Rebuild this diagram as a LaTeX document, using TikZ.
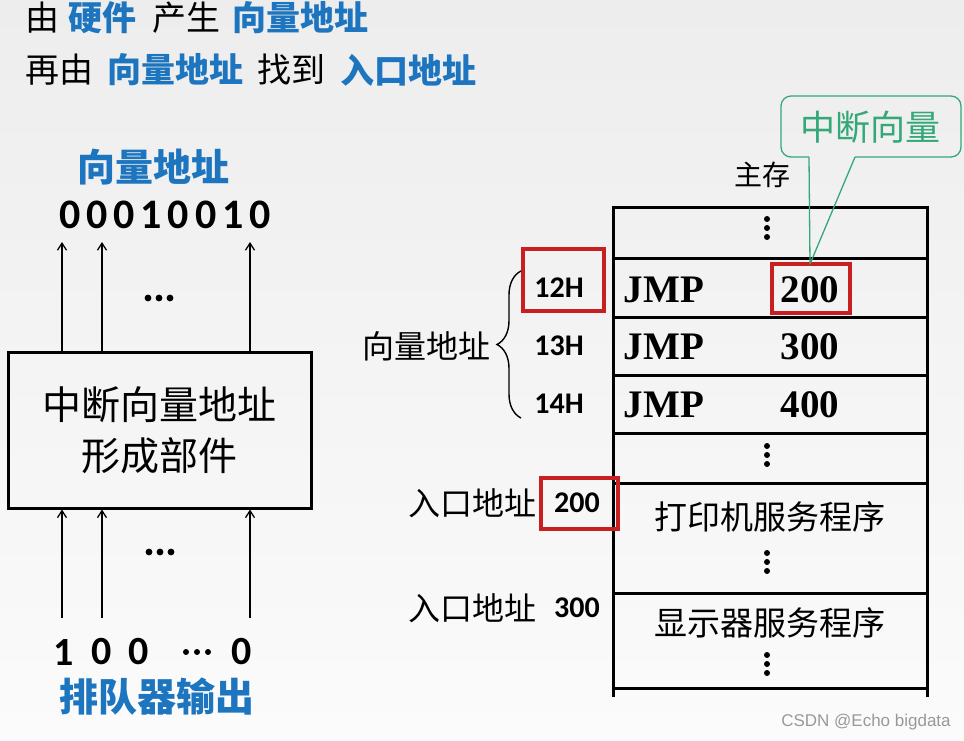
\documentclass[tikz,border=0pt]{standalone}
\usepackage{fontspec}
\newfontfamily\cjk{Noto Sans CJK SC}
\newfontfamily\carl{Carlito}
\newfontfamily\tnr{Liberation Serif}
\newfontfamily\wmfont{Liberation Sans}
\usetikzlibrary{arrows.meta,decorations.pathreplacing}
\definecolor{tblue}{RGB}{28,117,190}
\definecolor{tgreen}{RGB}{52,168,120}
\definecolor{tred}{RGB}{200,32,32}
\definecolor{bgtop}{RGB}{237,237,237}
\definecolor{bgbot}{RGB}{251,251,251}
\begin{document}
\begin{tikzpicture}[x=1pt,y=-1pt,
  txt/.style={inner sep=0pt,outer sep=0pt},
  cjkn/.style={txt,font={\cjk\fontsize{#1}{#1}\selectfont}},
  bl/.style={txt,text=tblue,font={\cjk\bfseries\fontsize{#1}{#1}\selectfont}},
  num/.style={txt,font={\carl\bfseries\fontsize{#1}{#1}\selectfont}},
  serifnum/.style={txt,font={\tnr\bfseries\fontsize{#1}{#1}\selectfont}},
  arr/.style={line width=1.3pt,-{Straight Barb[length=7pt,width=9pt,line width=1.3pt]}},
  tbl/.style={line width=3pt},
  redbox/.style={draw=tred,line width=4.5pt},
  dot/.style={fill=black}
]
\useasboundingbox (0,0) rectangle (964,740);
\shade[top color=bgtop,bottom color=bgbot] (0,0) rectangle (964,740);

% ---------- title ----------
\node[cjkn=34,anchor=west] (t1a) at (25,18) {由};
\node[bl=34,anchor=west] (t1b) at (68,18) {硬件};
\node[cjkn=34,anchor=west] (t1c) at (152,18) {产生};
\node[bl=34,anchor=west] (t1d) at (232,18) {向量地址};
\node[cjkn=34,anchor=west] (t2a) at (25,70) {再由};
\node[bl=34,anchor=west] (t2b) at (107,70) {向量地址};
\node[cjkn=34,anchor=west] (t2c) at (257,70) {找到};
\node[bl=34,anchor=west] (t2d) at (340,70) {入口地址};

% ---------- left block ----------
\node[bl=38] (vaddr) at (153,167) {向量地址};
\node[num=42,font={\carl\bfseries\fontsize{42}{42}\selectfont\addfontfeature{LetterSpace=14}}] (bits) at (165,215) {00010010};

\node[draw,line width=3pt,inner sep=0pt,outer sep=0pt,minimum width=303pt,minimum height=156pt,
      align=center,font={\cjk\fontsize{39}{51}\selectfont}] (unit) at (159.5,430) {中断向量地址\\形成部件};

\coordinate (o1) at (62,242);
\coordinate (o2) at (102,242);
\coordinate (o3) at (250,242);
\foreach \o in {o1,o2,o3} \draw[arr] (unit.north -| \o) -- (\o);
\foreach \dx in {-11,0,11} \fill[dot] (159+\dx,298) circle (3.4);

\coordinate (i1) at (62,618);
\coordinate (i2) at (102,618);
\coordinate (i3) at (250,618);
\foreach \i in {i1,i2,i3} \draw[arr,shorten >=1.5pt] (\i) -- (unit.south -| \i);
\foreach \dx in {-11,0,11} \fill[dot] (160+\dx,552) circle (3.4);

\node[num=40] (b1) at (64,652) {1};
\node[num=40] (b2) at (102,652) {0};
\node[num=40] (b3) at (139,652) {0};
\foreach \dx in {-11,0,11} \fill[dot] (197+\dx,652) circle (3);
\node[num=40] (b4) at (242,652) {0};
\node[bl=39] (queue) at (157,697) {排队器输出};

% ---------- right block ----------
\node[cjkn=28] (mem) at (762,175) {主存};

% table
\draw[tbl] (613,207) -- (927,207);
\foreach \y in {258,317,375,433,483,593,688} \draw[tbl] (613,\y) -- (927,\y);
\draw[tbl] (613,205.5) -- (613,697);
\draw[tbl] (927,205.5) -- (927,697);

% vertical dots
\foreach \yy in {228,455,562,664} {
  \foreach \dy in {-9,0,9} \fill[dot] (767,\yy+\dy) circle (3);
}

\node[serifnum=39] (j1) at (664,290) {JMP};
\node[serifnum=39] (j2) at (664,347) {JMP};
\node[serifnum=39] (j3) at (664,405) {JMP};
\node[serifnum=39] (n1) at (810,290) {200};
\node[serifnum=39] (n2) at (810,347) {300};
\node[serifnum=39] (n3) at (810,405) {400};
\draw[redbox] (772,264) rectangle (850,313);

\node[num=30] (a12) at (559,288) {12H};
\node[num=30] (a13) at (559,346) {13H};
\node[num=30] (a14) at (559,404) {14H};
\draw[redbox] (523,249) rectangle (604,311);

\draw[line width=1.4pt,decorate,decoration={brace,amplitude=24pt,aspect=0.5}] (521,418) -- (521,271);
\node[cjkn=32,anchor=east] (vlab) at (490,346) {向量地址};

\node[cjkn=32] (e1) at (472,503) {入口地址};
\node[num=30] (e1n) at (577,503) {200};
\draw[redbox] (541,478) rectangle (618,529);
\node[cjkn=32] (e2) at (472,608) {入口地址};
\node[num=30] (e2n) at (577,608) {300};

\node[cjkn=33] (p1) at (770,517) {打印机服务程序};
\node[cjkn=33] (p2) at (770,623) {显示器服务程序};

% callout
\node[txt,text=tgreen,font={\cjk\fontsize{35}{35}\selectfont}] (cv) at (870,127) {中断向量};
\coordinate (tip) at (810,264);
\draw[tgreen,line width=1.3pt,rounded corners=10pt] (809,157) -- (781,157) -- (781,96) -- (961,96) -- (961,157) -- (855,157);
\draw[tgreen,line width=1.3pt,line join=round] (809,157) -- (tip) -- (855,157);

\node[txt,text=black!40,font={\wmfont\fontsize{17}{17}\selectfont}] (wm) at (866,722) {CSDN @Echo bigdata};
\end{tikzpicture}
\end{document}
